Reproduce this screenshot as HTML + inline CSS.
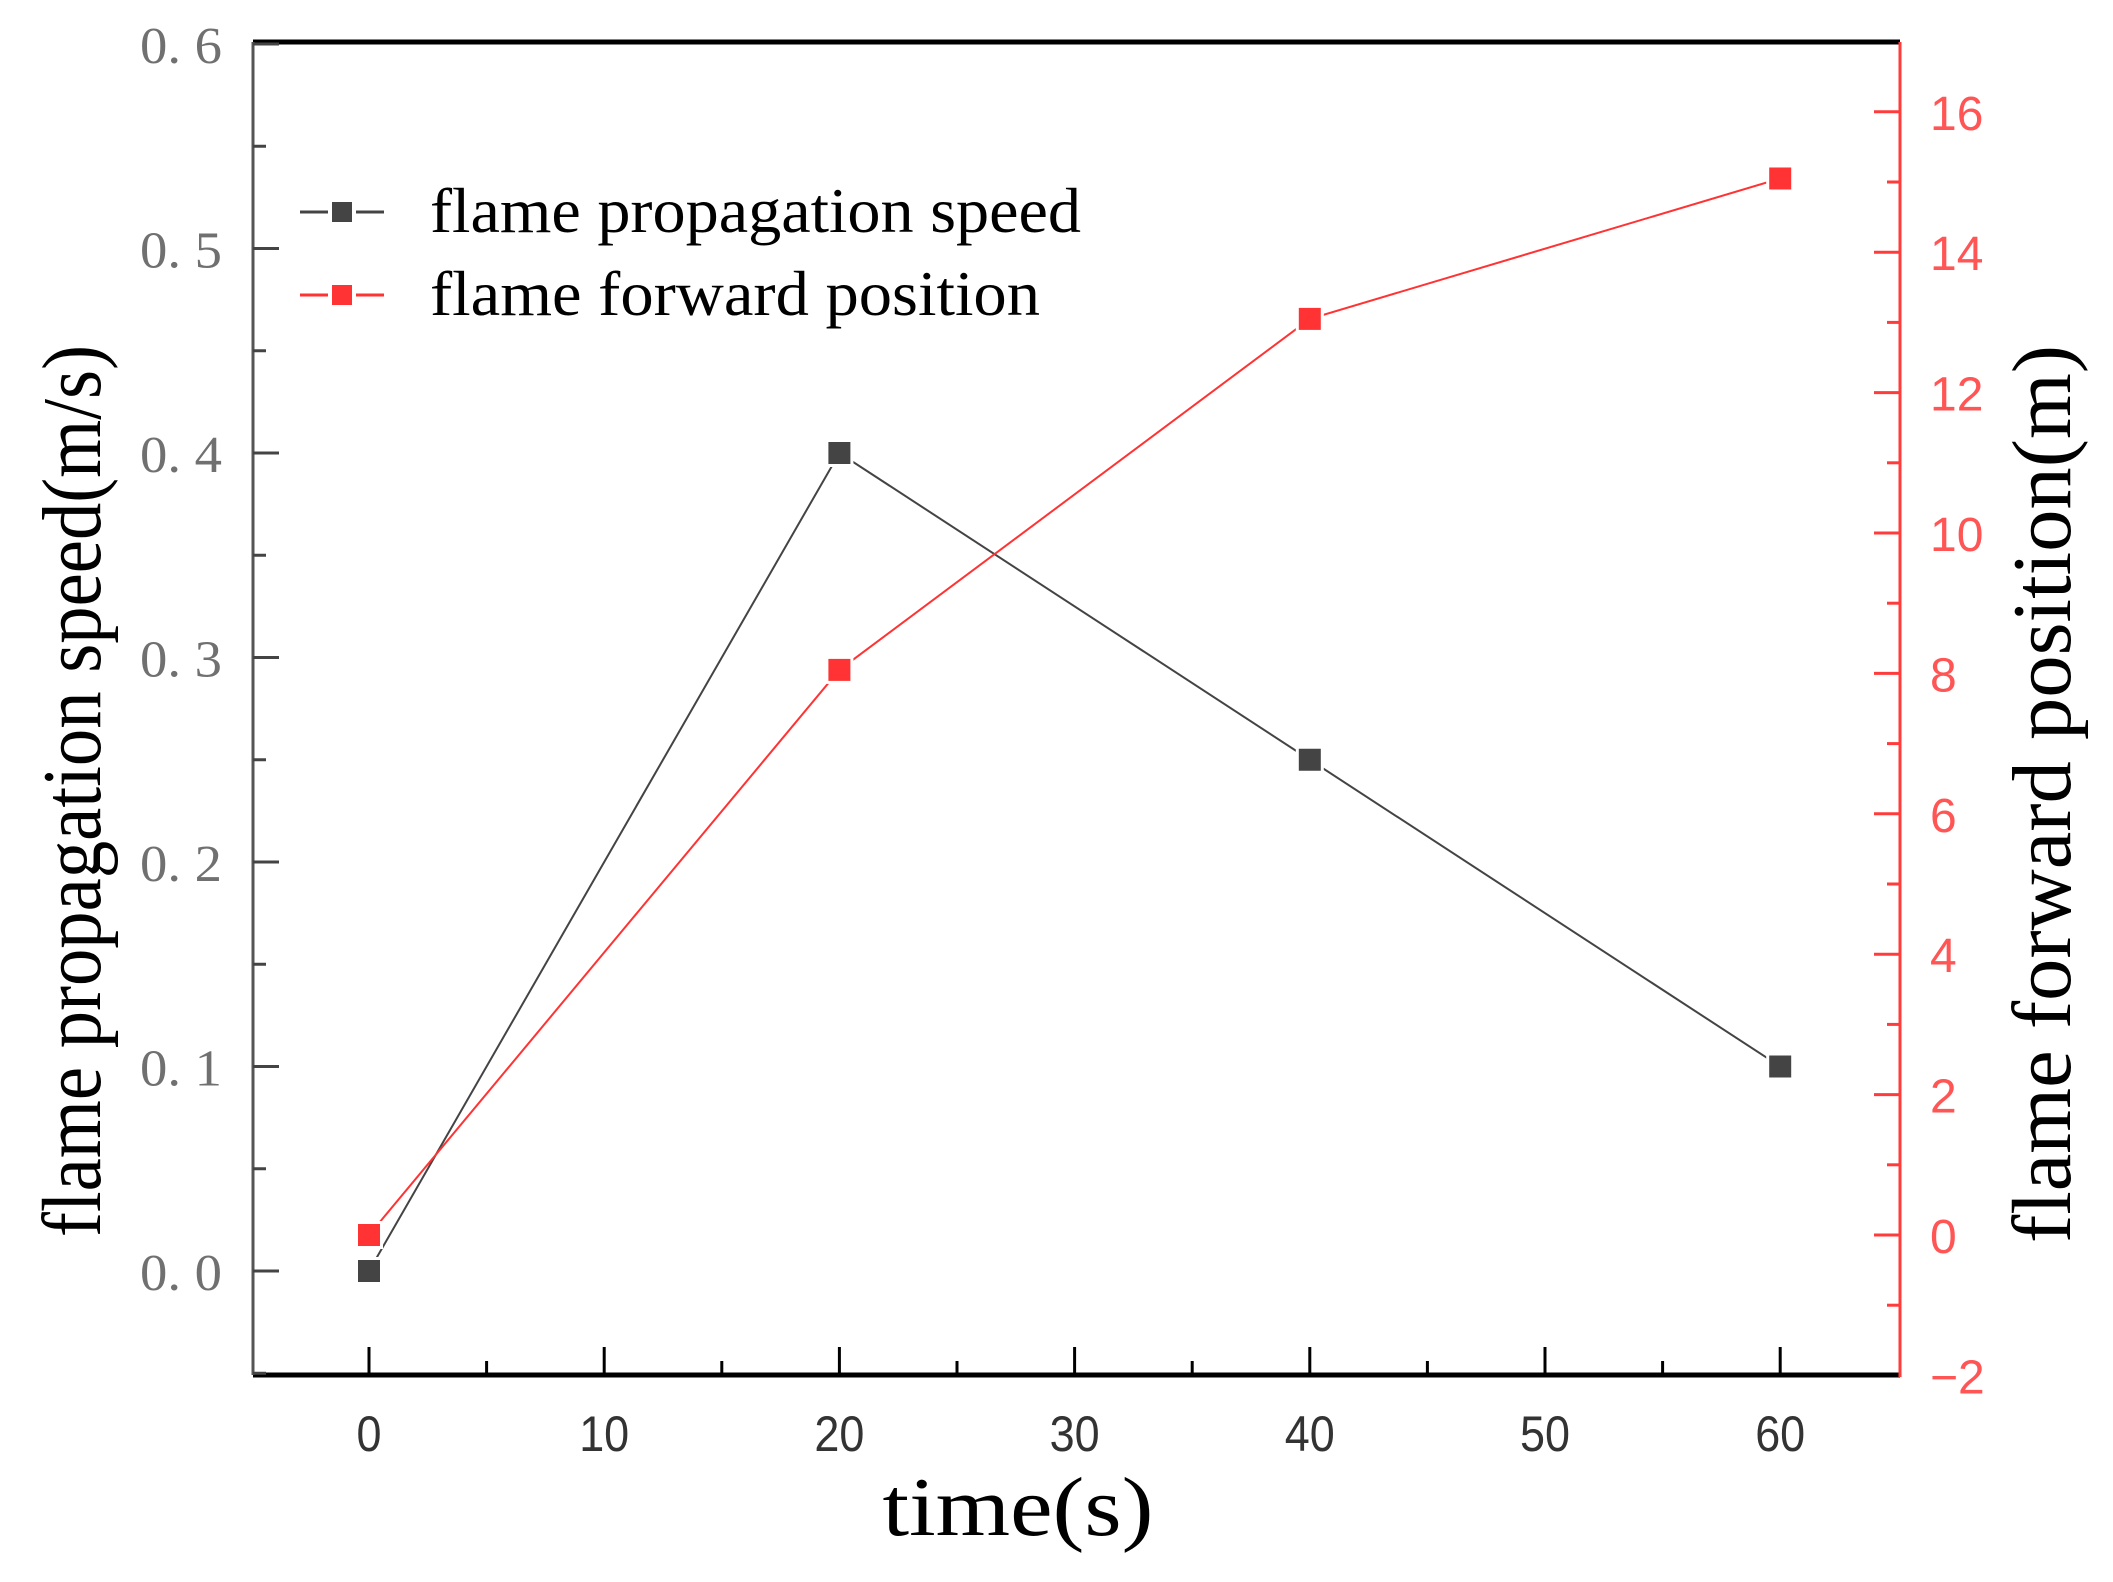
<!DOCTYPE html>
<html><head><meta charset="utf-8"><style>
html,body{margin:0;padding:0;background:#fff;}
svg{display:block;}
</style></head><body>
<svg id="chart" width="2113" height="1582" viewBox="0 0 2113 1582" xmlns="http://www.w3.org/2000/svg">
<rect width="2113" height="1582" fill="#fff"/>
</svg>
<script>
const categories = [0, 20, 40, 60];
const speedValues = [0, 0.40, 0.25, 0.10];
const positionValues = [0, 8.05, 13.05, 15.05];
const xTicks = [0, 10, 20, 30, 40, 50, 60];
const leftTicks = ["0. 0", "0. 1", "0. 2", "0. 3", "0. 4", "0. 5", "0. 6"];
const leftTickValues = [0, 0.1, 0.2, 0.3, 0.4, 0.5, 0.6];
const rightTicks = [-2, 0, 2, 4, 6, 8, 10, 12, 14, 16];

const NS = "http://www.w3.org/2000/svg";
const svg = document.getElementById('chart');
const L = 253, R = 1900, T = 42, B = 1375;
function xs(v){ return 369 + v * 23.52; }
function yl(v){ return 1271 - v * 2045; }
function yr(v){ return 1235 - v * 70.2; }
function mk(tag, attrs, parent){
  const e = document.createElementNS(NS, tag);
  for (const k in attrs) e.setAttribute(k, attrs[k]);
  (parent || svg).appendChild(e);
  return e;
}
let e;
e = mk('line', {x1:L, y1:T, x2:R, y2:T, stroke:'#000', 'stroke-width':5});


e = mk('line', {x1:L, y1:B, x2:R, y2:B, stroke:'#000', 'stroke-width':5});


e = mk('line', {x1:L, y1:T, x2:L, y2:B, stroke:'#555', 'stroke-width':3});


e = mk('line', {x1:R, y1:T, x2:R, y2:B+2, stroke:'#ff3b3b', 'stroke-width':3});



xTicks.forEach(v => {
  const x = xs(v);
  const t = mk('line', {x1:x, y1:B, x2:x, y2:B-28, stroke:'#000', 'stroke-width':3});
  
  
  if (v < 60) {
    const m = mk('line', {x1:xs(v+5), y1:B, x2:xs(v+5), y2:B-14, stroke:'#000', 'stroke-width':3});
    
    
  }
  const lb = mk('text', {x:x, y:1451, 'text-anchor':'middle', 'font-family':'Liberation Sans, sans-serif', 'font-size':50, fill:'#333', textLength: String(v).length*25, lengthAdjust:'spacingAndGlyphs'});
  lb.textContent = v;
  
  
});
leftTickValues.forEach((v, i) => {
  const y = yl(v);
  const t = mk('line', {x1:L, y1:y, x2:L+26, y2:y, stroke:'#444', 'stroke-width':3});
  
  
  const ym = yl(v - 0.05);
  const m = mk('line', {x1:L, y1:ym, x2:L+13, y2:ym, stroke:'#444', 'stroke-width':3});
  
  
  const lb = mk('text', {x:140, y:y+19, 'font-family':'Liberation Serif, serif', 'font-size':52, fill:'#707070', textLength:82, lengthAdjust:'spacingAndGlyphs'});
  lb.textContent = leftTicks[i];
  
  
});
rightTicks.forEach(v => {
  const y = yr(v);
  if (v > -2) {
    const t = mk('line', {x1:R, y1:y, x2:R-26, y2:y, stroke:'#ff3b3b', 'stroke-width':3});
    
    
  }
  const ym = yr(v + 1);
  if (ym > T + 5) {
    const m = mk('line', {x1:R, y1:ym, x2:R-13, y2:ym, stroke:'#ff3b3b', 'stroke-width':3});
    
    
  }
  const lb = mk('text', {x:1930, y:y+18, 'font-family':'Liberation Sans, sans-serif', 'font-size':48, fill:'#ff5555'});
  lb.textContent = v < 0 ? '\u2212' + Math.abs(v) : v;
  
  
});

function series(vals, yfn, color, name){
  const pts = vals.map((v, i) => xs(categories[i]) + ',' + yfn(v)).join(' ');
  const pl = mk('polyline', {points:pts, fill:'none', stroke:color, 'stroke-width':2});
  
  
  vals.forEach((v, i) => {
    const r = mk('rect', {x:xs(categories[i])-12.5, y:yfn(v)-12.5, width:25, height:25, fill:color, stroke:'#fff', 'stroke-width':3});
    
    
  });
}
series(speedValues, yl, '#444444', 'speed');
series(positionValues, yr, '#ff3333', 'position');

function legend(y, color, label, name, w){
  const l1 = mk('line', {x1:300, y1:y, x2:384, y2:y, stroke:color, 'stroke-width':3});
  
  
  const r = mk('rect', {x:330, y:y-12, width:24, height:24, fill:color, stroke:'#fff', 'stroke-width':4});
  
  
  const t = mk('text', {x:430, y:y+20, 'font-family':'Liberation Serif, serif', 'font-size':64, fill:'#000', textLength:w, lengthAdjust:'spacingAndGlyphs'});
  t.textContent = label;
  
  
}
legend(212, '#444444', 'flame propagation speed', 'speed', 651);
legend(295, '#ff3333', 'flame forward position', 'position', 610);

let tt;
tt = mk('text', {x:1018, y:1535, 'text-anchor':'middle', 'font-family':'Liberation Serif, serif', 'font-size':84, fill:'#000', textLength:271, lengthAdjust:'spacingAndGlyphs'});
tt.textContent = 'time(s)';


tt = mk('text', {x:0, y:0, 'text-anchor':'middle', 'font-family':'Liberation Serif, serif', 'font-size':84, fill:'#000', textLength:892, lengthAdjust:'spacingAndGlyphs', transform:'translate(100,791) rotate(-90)'});
tt.textContent = 'flame propagation speed(m/s)';


tt = mk('text', {x:0, y:0, 'text-anchor':'middle', 'font-family':'Liberation Serif, serif', 'font-size':84, fill:'#000', textLength:898, lengthAdjust:'spacingAndGlyphs', transform:'translate(2070,794) rotate(-90)'});
tt.textContent = 'flame forward position(m)';


</script>
</body></html>
